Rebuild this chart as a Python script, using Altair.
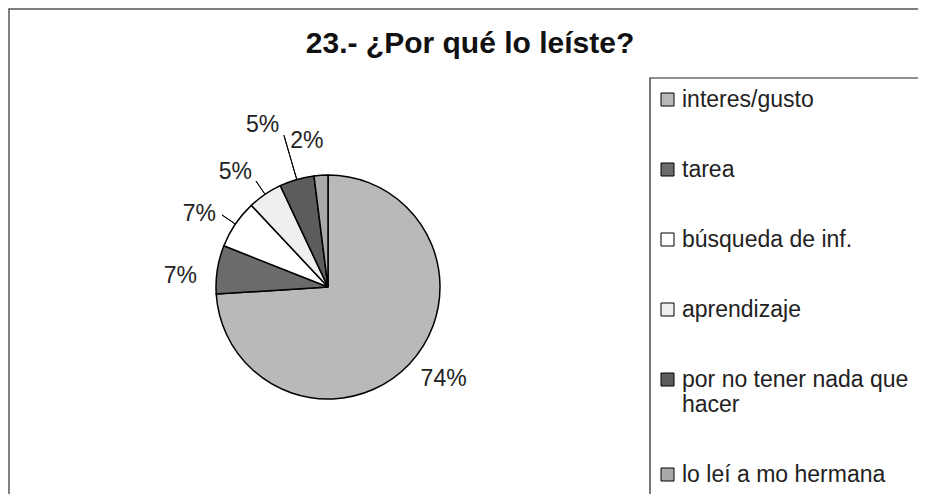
import altair as alt
import pandas as pd

categories = ["interes/gusto", "tarea", "búsqueda de inf.", "aprendizaje",
              "por no tener nada que hacer", "lo leí a mo hermana"]
values = [74, 7, 7, 5, 5, 2]
labels = ["74%", "7%", "7%", "5%", "5%", "2%"]
colors = ["#b9b9b9", "#6b6b6b", "#ffffff", "#efefef", "#5c5c5c", "#a9a9a9"]

# slices whose labels are pulled out with leader lines
leader_near = ["búsqueda de inf.", "aprendizaje"]
leader_far = ["por no tener nada que hacer"]

df = pd.DataFrame({
    "cat": categories,
    "value": values,
    "label": labels,
    "order": list(range(len(categories))),
})

FONT = "Liberation Sans"
CX, CY, R = 320, 279, 112

arcs = alt.Chart(df).mark_arc(outerRadius=R, stroke="black", strokeWidth=1.5).encode(
    theta=alt.Theta("value:Q", stack=True, scale=alt.Scale(domain=[0, 100])),
    order=alt.Order("order:Q"),
    x=alt.value(CX),
    y=alt.value(CY),
    color=alt.Color(
        "cat:N",
        scale=alt.Scale(domain=categories, range=colors),
        legend=alt.Legend(
            title=None,
            orient="none",
            legendX=638,
            legendY=70,
            symbolType="square",
            symbolSize=169,
            symbolStrokeColor="black",
            symbolStrokeWidth=1,
            labelFont=FONT,
            labelFontSize=23,
            labelColor="#222",
            labelOffset=3,
            labelLimit=400,
            rowPadding=46,
            padding=10,
            labelExpr="datum.label == 'por no tener nada que hacer' ? ['por no tener nada que', 'hacer'] : datum.label",
        ),
    ),
)

# mid angle of every slice, computed from the values
mid = (
    alt.Chart(df)
    .transform_window(cum="sum(value)", sort=[alt.SortField("order")])
    .transform_calculate(mid="datum.cum - datum.value / 2")
    .encode(
        theta=alt.Theta("mid:Q"),
        x=alt.value(CX),
        y=alt.value(CY),
    )
)

near = alt.FieldOneOfPredicate(field="cat", oneOf=leader_near)
far = alt.FieldOneOfPredicate(field="cat", oneOf=leader_far)

lead1 = mid.transform_filter(near).mark_arc(
    innerRadius=R, outerRadius=R + 16, stroke="black", strokeWidth=1, fill=None
).encode(theta2="mid:Q")
lead2 = mid.transform_filter(far).mark_arc(
    innerRadius=R, outerRadius=R + 46, stroke="black", strokeWidth=1, fill=None
).encode(theta2="mid:Q")

text_main = mid.transform_filter(~far).mark_text(
    radius=148, thetaOffset=-0.08, font=FONT, fontSize=23, color="#222"
).encode(text="label:N")
text_far = mid.transform_filter(far).mark_text(
    radius=175, thetaOffset=-0.1, font=FONT, fontSize=23, color="#222"
).encode(text="label:N")

one = pd.DataFrame({"k": [0]})
legend_box = alt.Chart(one).mark_rect(
    fill=None, stroke="#222", strokeWidth=1.2
).encode(
    x=alt.value(642), x2=alt.value(1200), y=alt.value(70), y2=alt.value(1200)
)
frame = alt.Chart(one).mark_rect(
    fill=None, stroke="#555", strokeWidth=1.5
).encode(
    x=alt.value(1), x2=alt.value(1200), y=alt.value(1), y2=alt.value(1200)
)

chart = (
    alt.layer(frame, arcs, lead1, lead2, text_main, text_far, legend_box)
    .properties(
        width=910,
        height=486,
        padding=0,
        autosize=alt.AutoSizeParams(type="none"),
        title=alt.Title(
            "23.- ¿Por qué lo leíste?",
            font=FONT,
            fontSize=30,
            fontWeight="bold",
            color="#111",
            anchor="middle",
            baseline="alphabetic",
            offset=-48,
            dy=27,
            dx=7,
        ),
    )
    .configure_view(strokeWidth=0)
)

chart.save("out.html", embed_options={"renderer": "svg", "actions": False})
